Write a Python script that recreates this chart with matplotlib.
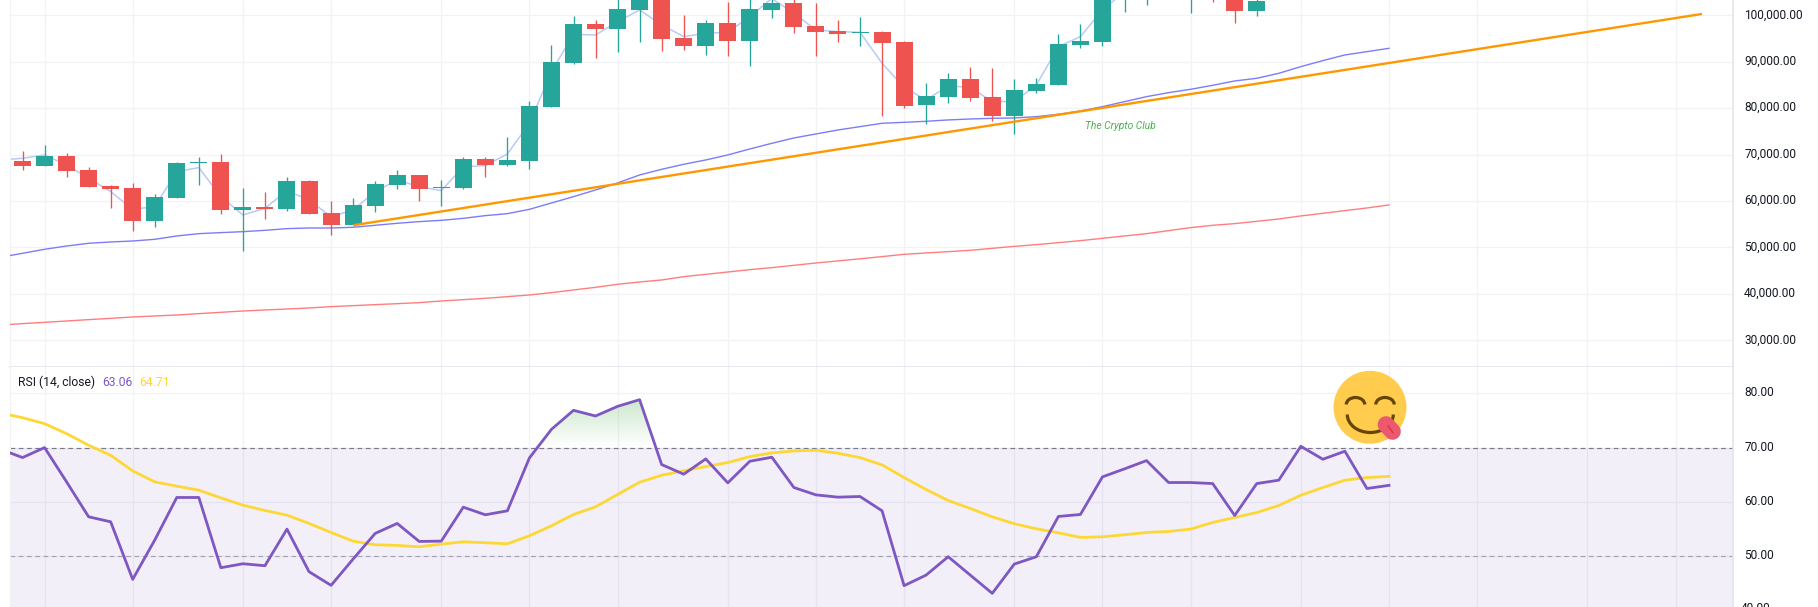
"""BTC weekly candles with moving averages, trendline and RSI pane."""

import numpy as np
import matplotlib
matplotlib.use("Agg")
import matplotlib.pyplot as plt
from matplotlib.patches import Circle, Arc, PathPatch
from matplotlib.path import Path
from matplotlib.transforms import ScaledTranslation

plt.rcParams["font.family"] = ["Roboto", "DejaVu Sans"]

W, H = 1818, 607

# candles; what sits above the frame is estimated
opens = [68620, 67550, 69700, 66690, 63240, 62810, 55700, 60650, 68190, 68410,
         58070, 58720, 58290, 64320, 57420, 54840, 58930, 63450, 65610, 62810,
         62810, 69050, 67760, 68620, 80260, 89730, 98130, 97060, 101150, 104200,
         95120, 93390, 98350, 94470, 101150, 102660, 97700, 96630, 96200, 96410,
         94260, 80690, 82410, 86290, 82410, 78320, 83700, 84990, 93610, 94260,
         103500, 105000, 107000, 104000, 106000, 104000, 100930]
closes = [67550, 69700, 66470, 63020, 62590, 55700, 60870, 68190, 68410, 58070,
          58720, 58290, 64320, 57210, 54840, 59150, 63670, 65610, 62590, 63020,
          69050, 67760, 68840, 80470, 89950, 98130, 97060, 101360, 104000, 94900,
          93390, 98350, 94470, 101360, 102660, 97490, 96410, 95980, 96410, 94040,
          80470, 82630, 86290, 82190, 78320, 83920, 85210, 93830, 94470, 104500,
          106000, 107500, 105500, 106000, 103800, 100930, 103000]
highs = [70780, 72070, 70350, 67330, 63450, 63890, 61520, 68410, 69490, 70130,
         62810, 61950, 65180, 64530, 60010, 60650, 64320, 66690, 65610, 64530,
         69490, 69490, 73790, 81550, 93610, 99860, 99000, 104200, 105000, 105200,
         100070, 99000, 102870, 104500, 104500, 104400, 102660, 99000, 99640, 96630,
         94470, 85420, 87580, 88870, 88660, 86290, 86500, 95980, 98130, 105500,
         107000, 108500, 108000, 107000, 107000, 105000, 104000]
lows = [66690, 67550, 65180, 63020, 58500, 53550, 54410, 60650, 63450, 57210,
        49240, 56130, 57850, 57210, 52680, 54840, 57640, 62590, 60010, 58930,
        62590, 65180, 67550, 66900, 80260, 89520, 90810, 92100, 94260, 92320,
        92530, 91460, 91240, 89090, 99430, 96190, 91240, 94260, 93390, 78320,
        80040, 76590, 81120, 81550, 77240, 74440, 83270, 84990, 92960, 93390,
        100710, 102220, 104000, 100500, 102860, 98350, 99850]

# lines start one bar left of the frame
line_x = list(range(-1, 63))
ma_fast = [68840, 69200, 69920, 67760, 64890, 62020, 58210, 58790, 66330, 67190,
           60940, 56990, 58430, 62230, 60220, 56630, 58070, 62020, 64530, 63100,
           62230, 67400, 67620, 70130, 76740, 87870, 95910, 95760, 98640, 101150,
           97920, 95410, 96120, 96340, 99710, 103600, 100430, 96840, 96480, 96340,
           89660, 84490, 81760, 84780, 84490, 81400, 81400, 84990, 93250, 95410,
           101150, 105100]
ma_mid = [47870, 48740, 49600, 50310, 50890, 51180, 51390, 51750, 52470, 52970,
          53190, 53400, 53690, 54050, 54190, 54190, 54340, 54770, 55200, 55560,
          55840, 56270, 56850, 57280, 58210, 59580, 60940, 62380, 63890, 65610,
          66830, 67910, 68840, 69920, 71210, 72430, 73580, 74440, 75300, 76020,
          76740, 76950, 77170, 77460, 77670, 77810, 77890, 78170, 78680, 79390,
          80330, 81400, 82480, 83340, 84060, 84920, 85860, 86430, 87510, 88940,
          90240, 91460, 92170, 92890]
ma_slow = [33300, 33590, 33870, 34160, 34450, 34730, 35020, 35240, 35450, 35740,
           36030, 36310, 36530, 36740, 36960, 37250, 37460, 37680, 37890, 38110,
           38470, 38760, 39040, 39400, 39760, 40260, 40840, 41410, 42060, 42560,
           42990, 43710, 44210, 44710, 45220, 45650, 46150, 46650, 47100, 47550,
           48030, 48520, 48810, 49090, 49380, 49810, 50240, 50600, 51030, 51460,
           51970, 52470, 52970, 53620, 54260, 54770, 55130, 55630, 56130, 56780,
           57350, 57930, 58500, 59150]

trend_x = [15, 76.2]
trend_y = [54770, 100290]

rsi = [69.69, 68.17, 70.00, 63.70, 57.28, 56.36, 45.78, 53.00, 60.83, 60.83,
       47.92, 48.65, 48.29, 55.02, 47.19, 44.68, 49.51, 54.22, 56.06, 52.75,
       52.81, 59.05, 57.65, 58.38, 68.10, 73.36, 76.85, 75.81, 77.58, 78.81,
       66.88, 65.11, 67.92, 63.52, 67.49, 68.23, 62.66, 61.31, 60.89, 61.01,
       58.38, 44.62, 46.57, 49.94, 46.57, 43.21, 48.59, 49.94, 57.34, 57.71,
       64.62, 66.09, 67.61, 63.58, 63.58, 63.39, 57.52, 63.39, 64.01, 70.24,
       67.86, 69.33, 62.48, 63.06]
rsi_ma = [76.36, 75.50, 74.40, 72.57, 70.43, 68.59, 65.72, 63.70, 62.91, 62.17,
          60.76, 59.42, 58.44, 57.58, 56.06, 54.40, 52.81, 52.14, 52.02, 51.77,
          52.26, 52.69, 52.51, 52.32, 53.79, 55.63, 57.71, 59.11, 61.38, 63.64,
          64.92, 65.72, 66.51, 67.25, 68.35, 69.02, 69.39, 69.51, 68.96, 68.17,
          66.82, 64.50, 62.29, 60.28, 58.81, 57.28, 56.00, 55.08, 54.34, 53.49,
          53.61, 53.98, 54.40, 54.59, 55.02, 56.24, 57.16, 58.07, 59.36, 61.25,
          62.66, 64.01, 64.50, 64.71]

price_ticks = [30000, 40000, 50000, 60000, 70000, 80000, 90000, 100000]
rsi_ticks = [50, 60, 70, 80]
month_bars = [1, 5, 10, 14, 19, 23, 27, 32, 36, 40, 45, 49, 53, 58, 62, 66, 71, 75]

# Colors
C_UP = "#26a69a"
C_DOWN = "#ef5350"
C_GRID = "#f1f2f5"
C_BORDER = "#e0e3eb"
C_TEXT = "#131722"
C_RSI = "#7e57c2"
C_RSI_MA = "#fdd835"

# pane layout in pixels
LEFT, RIGHT, SPLIT = 10, 1733, 366.7
X_LIM = ((LEFT - 22.5) / 22.04, (RIGHT - 22.5) / 22.04)

fig = plt.figure(figsize=(W / 100, H / 100), dpi=100, facecolor="white")
ax = fig.add_axes([LEFT / W, (H - SPLIT) / H, (RIGHT - LEFT) / W, SPLIT / H])
ax2 = fig.add_axes([LEFT / W, 0, (RIGHT - LEFT) / W, (H - SPLIT) / H])

for a, ticks, fmt in [(ax, price_ticks, "{:,.2f}"), (ax2, rsi_ticks, "{:.2f}")]:
    a.set_xlim(*X_LIM)
    a.set_xticks(month_bars)
    a.set_yticks(ticks)
    a.set_yticklabels([fmt.format(t) for t in ticks])
    a.yaxis.tick_right()
    a.tick_params(axis="x", length=0, labelbottom=False)
    a.tick_params(axis="y", length=0, pad=8, labelsize=8.6, labelcolor=C_TEXT)
    a.grid(True, color=C_GRID, lw=0.9)
    a.set_axisbelow(True)
    a.spines["top"].set_visible(False)
    a.spines["left"].set_color(C_GRID)
    a.spines["right"].set_color(C_BORDER)
    a.spines["right"].set_linewidth(1.1)
    a.spines["bottom"].set_color(C_BORDER)
    a.spines["bottom"].set_linewidth(1.1)
    # TradingView prints its labels a touch above the gridline
    lift = ScaledTranslation(0, 2 / 100, fig.dpi_scale_trans)
    for lbl in a.get_yticklabels():
        lbl.set_transform(lbl.get_transform() + lift)

ax.set_ylim(24314, 103295)
ax2.set_ylim(40.7, 84.87)
ax2.spines["bottom"].set_visible(False)

# Price pane
ax.plot(line_x[:len(ma_fast)], ma_fast, color="#b7cbf6", lw=1.1, zorder=2)
ax.plot(line_x, ma_mid, color="#7c7cf8", lw=1.0, zorder=3)
ax.plot(line_x, ma_slow, color="#ff7d7d", lw=1.0, zorder=3)

bars = np.arange(len(opens))
candle_colors = [C_UP if c >= o else C_DOWN for o, c in zip(opens, closes)]
ax.vlines(bars, lows, highs, colors=candle_colors, lw=0.95, zorder=4)
ax.bar(bars, np.array(closes) - np.array(opens), bottom=opens, width=0.77,
       color=candle_colors, linewidth=0, zorder=5)

ax.plot(trend_x, trend_y, color="#ff9800", lw=1.7, zorder=6, solid_capstyle="butt")
ax.text(48.2, 76220, "The Crypto Club", color="#4caf50", fontsize=7.4,
        style="italic", va="center", ha="left", zorder=7)

# RSI pane
ax2.axhspan(30, 70, color=C_RSI, alpha=0.095, lw=0, zorder=1)
ax2.axhline(70, color="#787b86", lw=0.85, ls=(0, (4, 3)), zorder=2)
ax2.axhline(50, color="#787b86", lw=0.85, ls=(0, (4, 3)), alpha=0.6, zorder=2)

fade = np.zeros((100, 2, 4))
fade[..., :3] = matplotlib.colors.to_rgb("#4caf50")
fade[..., 3] = np.linspace(0.32, 0.0, 100)[:, None]
img = ax2.imshow(fade, extent=(X_LIM[0], X_LIM[1], 70, 80), aspect="auto", zorder=2)
above = ax2.fill_between(line_x, 70, rsi, where=np.array(rsi) > 70, interpolate=True,
                         color="none", lw=0)
verts, codes = [], []
for p in above.get_paths():
    verts.extend(p.vertices)
    codes.extend(p.codes)
clip = PathPatch(Path(verts, codes), transform=ax2.transData, fc="none", ec="none")
ax2.add_patch(clip)
img.set_clip_path(clip)
ax2.set_xlim(*X_LIM)
ax2.set_ylim(40.7, 84.87)

ax2.plot(line_x, rsi_ma, color=C_RSI_MA, lw=2.0, zorder=4)
ax2.plot(line_x, rsi, color=C_RSI, lw=2.0, zorder=5)

# only the top of the 40.00 label shows at the bottom edge, as in the original
ax2.annotate("40.00", xy=(1, 40), xycoords=ax2.get_yaxis_transform(),
             xytext=(5.8, 1.4), textcoords="offset points", fontsize=8.6,
             color=C_TEXT, va="center", ha="left", annotation_clip=False)

# Overlay in pixel coordinates: legend text and the emoji
over = fig.add_axes([0, 0, 1, 1], facecolor="none")
over.set_xlim(0, W)
over.set_ylim(H, 0)
over.axis("off")

over.text(18, 382, "RSI (14, close)", color=C_TEXT, fontsize=8.7, va="center")
over.text(102, 382, "63.06", color=C_RSI, fontsize=8.7, va="center")
over.text(139, 382, "64.71", color=C_RSI_MA, fontsize=8.7, va="center")

over.add_patch(Circle((1370, 407.3), 36.5, fc="#ffcc4d", ec="none"))
for cx in [1355.5, 1385]:
    over.add_patch(Arc((cx, 404.5), 18.5, 14, theta1=180, theta2=360,
                       color="#664500", lw=2.3))
over.add_patch(Arc((1370.3, 414.5), 46, 36, theta1=0, theta2=180, color="#664500", lw=2.3))
over.plot([1386, 1392.5], [424.5, 431.5], color="#ea596e", lw=12, solid_capstyle="round")
over.plot([1388, 1393], [425.7, 432.7], color="#dd2e44", lw=0.9)

fig.savefig("out.png", dpi=100, facecolor="white")
